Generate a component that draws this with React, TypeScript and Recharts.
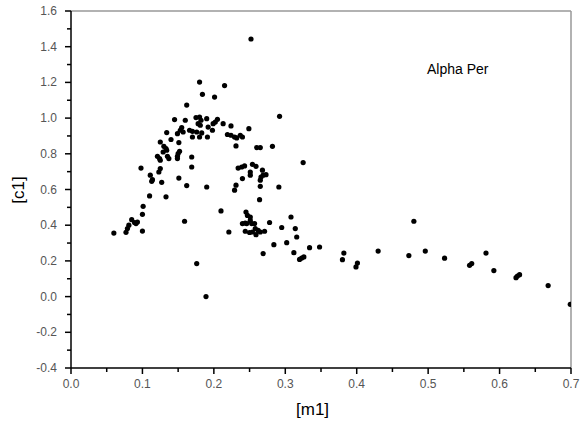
import React from 'react';
import { ScatterChart, Scatter, XAxis, YAxis, ReferenceLine } from 'recharts';

const m1Values = [
  0.060, 0.077, 0.079, 0.081, 0.085, 0.089, 0.093, 0.091, 0.100, 0.100,
  0.101, 0.110, 0.133, 0.098, 0.111, 0.114, 0.113, 0.123, 0.125, 0.127,
  0.151, 0.162, 0.190, 0.159, 0.176, 0.189, 0.125, 0.130, 0.133, 0.134,
  0.129, 0.135, 0.137, 0.121, 0.124, 0.125, 0.152, 0.150, 0.149, 0.149,
  0.169, 0.169, 0.134, 0.140, 0.151, 0.145, 0.160, 0.162, 0.180, 0.184,
  0.215, 0.201, 0.175, 0.180, 0.182, 0.178, 0.181, 0.190, 0.192, 0.155,
  0.153, 0.149, 0.157, 0.166, 0.170, 0.176, 0.183, 0.170, 0.180, 0.191,
  0.205, 0.199, 0.202, 0.198, 0.213, 0.224, 0.249, 0.219, 0.224, 0.229,
  0.232, 0.237, 0.240, 0.231, 0.260, 0.265, 0.282, 0.292, 0.252, 0.325,
  0.234, 0.239, 0.243, 0.254, 0.259, 0.268, 0.251, 0.251, 0.266, 0.269,
  0.273, 0.240, 0.265, 0.231, 0.229, 0.265, 0.291, 0.264, 0.210, 0.221,
  0.245, 0.247, 0.251, 0.240, 0.244, 0.246, 0.253, 0.257, 0.251, 0.244,
  0.250, 0.254, 0.259, 0.262, 0.265, 0.271, 0.258, 0.278, 0.308, 0.295,
  0.314, 0.316, 0.284, 0.302, 0.269, 0.312, 0.334, 0.348, 0.320, 0.323,
  0.326, 0.380, 0.382, 0.399, 0.401, 0.430, 0.480, 0.473, 0.496, 0.523,
  0.558, 0.561, 0.581, 0.592, 0.623, 0.625, 0.628, 0.668, 0.699,
];

const c1Values = [
  0.356, 0.360, 0.381, 0.400, 0.431, 0.415, 0.418, 0.409, 0.367, 0.461,
  0.506, 0.564, 0.559, 0.720, 0.680, 0.655, 0.646, 0.698, 0.717, 0.640,
  0.664, 0.622, 0.614, 0.422, 0.185, 0.000, 0.866, 0.842, 0.829, 0.820,
  0.810, 0.786, 0.773, 0.786, 0.773, 0.764, 0.814, 0.801, 0.786, 0.773,
  0.782, 0.726, 0.919, 0.880, 0.863, 0.992, 0.988, 1.073, 1.202, 1.133,
  1.182, 1.118, 1.003, 1.006, 0.988, 0.969, 0.960, 0.997, 0.950, 0.947,
  0.932, 0.913, 0.922, 0.932, 0.926, 0.922, 0.917, 0.894, 0.894, 0.894,
  0.993, 0.969, 0.978, 0.932, 0.969, 0.956, 0.941, 0.908, 0.904, 0.894,
  0.889, 0.904, 0.894, 0.844, 0.835, 0.835, 0.842, 1.010, 1.443, 0.751,
  0.720, 0.726, 0.732, 0.741, 0.730, 0.708, 0.698, 0.680, 0.670, 0.680,
  0.683, 0.661, 0.652, 0.624, 0.596, 0.618, 0.614, 0.543, 0.480, 0.362,
  0.474, 0.455, 0.446, 0.409, 0.412, 0.409, 0.409, 0.409, 0.427, 0.366,
  0.359, 0.362, 0.347, 0.371, 0.362, 0.366, 0.381, 0.415, 0.446, 0.387,
  0.381, 0.334, 0.291, 0.302, 0.241, 0.246, 0.274, 0.278, 0.208, 0.216,
  0.222, 0.207, 0.244, 0.166, 0.188, 0.255, 0.422, 0.230, 0.255, 0.215,
  0.175, 0.185, 0.244, 0.146, 0.106, 0.115, 0.123, 0.062, -0.043,
];

const xTicks = [0, 0.05, 0.1, 0.15, 0.2, 0.25, 0.3, 0.35, 0.4, 0.45, 0.5, 0.55, 0.6, 0.65, 0.7];
const yTicks = [-0.4, -0.3, -0.2, -0.1, 0, 0.1, 0.2, 0.3, 0.4, 0.5, 0.6, 0.7, 0.8, 0.9, 1.0, 1.1, 1.2, 1.3, 1.4, 1.5, 1.6];

const data = m1Values.map((m, i) => ({ m1: m, c1: c1Values[i] }));

const FONT = 'Arial, "Liberation Sans", sans-serif';

const XTick = (props: any) => {
  const { x, y, index } = props;
  const major = index % 2 === 0;
  return (
    <g>
      <line x1={x} y1={y} x2={x} y2={y + (major ? 6 : 4)} stroke="#000" strokeWidth={1.5} />
      {major && (
        <text x={x} y={y + 20} textAnchor="middle" fontSize={12} fontFamily={FONT} fill="#555">
          {Number(props.payload.value).toFixed(1)}
        </text>
      )}
    </g>
  );
};

const YTick = (props: any) => {
  const { x, y, index } = props;
  const major = index % 2 === 0;
  return (
    <g>
      <line x1={x} y1={y} x2={x - (major ? 6 : 4)} y2={y} stroke="#000" strokeWidth={1.5} />
      {major && (
        <text x={x - 14} y={y + 4} textAnchor="end" fontSize={12} fontFamily={FONT} fill="#555">
          {Number(props.payload.value).toFixed(1)}
        </text>
      )}
    </g>
  );
};

const Dot = (props: any) => {
  const { cx, cy } = props;
  if (cx == null || cy == null) return null;
  return <circle cx={cx} cy={cy} r={2.6} fill="#000" />;
};

export default function App() {
  return (
    <div style={{ position: 'absolute', left: 0, top: 0, width: 580, height: 427, background: '#fff' }}>
      <ScatterChart width={580} height={427} margin={{ top: 11, right: 9, bottom: 0, left: 0 }}>
        <XAxis
          type="number"
          dataKey="m1"
          domain={[0, 0.7]}
          ticks={xTicks}
          interval={0}
          height={59}
          tickSize={0}
          tickMargin={0}
          tickLine={false}
          axisLine={{ stroke: '#000', strokeWidth: 1.5 }}
          tick={<XTick />}
          allowDataOverflow
        />
        <YAxis
          type="number"
          dataKey="c1"
          domain={[-0.4, 1.6]}
          ticks={yTicks}
          interval={0}
          width={71}
          tickSize={0}
          tickMargin={0}
          tickLine={false}
          axisLine={{ stroke: '#000', strokeWidth: 1.5 }}
          tick={<YTick />}
          allowDataOverflow
        />
        <ReferenceLine y={1.6} stroke="#999" strokeWidth={1.5} />
        <ReferenceLine x={0.7} stroke="#999" strokeWidth={1.5} />
        <Scatter data={data} shape={<Dot />} isAnimationActive={false} />
      </ScatterChart>
      <div style={{ position: 'absolute', left: 427, top: 61, fontFamily: FONT, fontSize: 14, color: '#000', whiteSpace: 'nowrap' }}>
        Alpha Per
      </div>
      <div style={{ position: 'absolute', left: 296, top: 400, fontFamily: FONT, fontSize: 17, color: '#000', whiteSpace: 'nowrap' }}>
        [m1]
      </div>
      <div
        style={{
          position: 'absolute',
          left: 19,
          top: 190,
          fontFamily: FONT,
          fontSize: 17,
          color: '#000',
          whiteSpace: 'nowrap',
          transform: 'translate(-50%, -50%) rotate(-90deg)',
        }}
      >
        [c1]
      </div>
    </div>
  );
}
